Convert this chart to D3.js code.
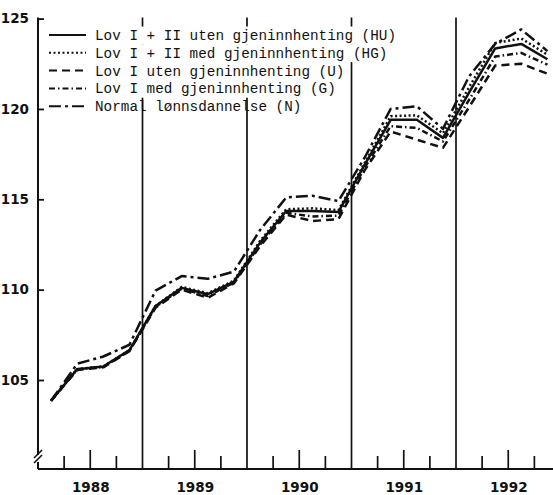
<!DOCTYPE html>
<html>
<head>
<meta charset="utf-8">
<script src="https://cdn.jsdelivr.net/npm/d3@7"></script>
<style>
  body { margin: 0; background: #fff; }
  svg { display: block; }
</style>
</head>
<body>
<script>
'use strict';

// quarters 1988Q1 .. 1992Q4
let years = [1988, 1989, 1990, 1991, 1992];
let quarters = [];
years.forEach((yr) => { [1, 2, 3, 4].forEach((q) => quarters.push(yr + (q - 0.5) / 4)); });

// price index
let serHU = [103.85, 105.6, 105.75, 106.65, 109.1, 110.1, 109.75, 110.45, 112.6, 114.35,
             114.35, 114.3, 116.9, 119.4, 119.4, 118.4, 120.9, 123.35, 123.6, 122.75];
let serHG = [103.85, 105.6, 105.75, 106.65, 109.1, 110.15, 109.8, 110.5, 112.7, 114.45,
             114.5, 114.4, 117.0, 119.6, 119.65, 118.65, 121.2, 123.65, 123.9, 123.0];
let serU  = [103.85, 105.55, 105.7, 106.6, 109.0, 110.0, 109.55, 110.35, 112.4, 114.15,
             113.8, 113.9, 116.6, 118.75, 118.3, 117.85, 120.1, 122.4, 122.5, 121.95];
let serG  = [103.85, 105.6, 105.72, 106.62, 109.05, 110.05, 109.65, 110.4, 112.5, 114.25,
             114.05, 114.1, 116.75, 119.05, 118.95, 118.2, 120.5, 122.9, 123.1, 122.45];
let serN  = [103.85, 105.9, 106.3, 106.95, 109.95, 110.75, 110.6, 111.0, 113.3, 115.1,
             115.2, 114.9, 117.3, 120.0, 120.15, 118.9, 121.8, 123.6, 124.4, 123.2];

let legendLabels = [
  "Lov I + II uten gjeninnhenting (HU)",
  "Lov I + II med gjeninnhenting (HG)",
  "Lov I uten gjeninnhenting (U)",
  "Lov I med gjeninnhenting (G)",
  "Normal lønnsdannelse (N)"
];
let yTicks = [105, 110, 115, 120, 125];

let series = [
  { values: serHU, dash: null },
  { values: serHG, dash: "2,2.5" },
  { values: serU,  dash: "8,5" },
  { values: serG,  dash: "6,3,1.5,3" },
  { values: serN,  dash: "12,4,3,4" }
];

let svg = d3.select('body').append('svg')
  .attr('width', 553)
  .attr('height', 495);

let x = d3.scaleLinear().domain([1988, 1993]).range([38, 560.5]);
let y = d3.scaleLinear().domain([105, 125]).range([380, 18.6]);
let axisY = 469;
let ink = "#111";

// year separator lines
svg.selectAll('.yearline')
  .data([1989, 1990, 1991, 1992])
  .enter().append('line')
  .attr('x1', (d) => x(d)).attr('x2', (d) => x(d))
  .attr('y1', y(125) - 1).attr('y2', axisY)
  .attr('stroke', ink).attr('stroke-width', 1.7);

// quarter ticks on x axis
let qTicks = [];
years.forEach((yr) => { [0.25, 0.5, 0.75].forEach((f) => qTicks.push(yr + f)); });
svg.selectAll('.qtick')
  .data(qTicks)
  .enter().append('line')
  .attr('x1', (d) => x(d)).attr('x2', (d) => x(d))
  .attr('y1', (d) => axisY - ((d % 1) === 0.5 ? 19 : 13)).attr('y2', axisY)
  .attr('stroke', ink).attr('stroke-width', 1.7);

// x axis line
svg.append('line')
  .attr('x1', x(1988)).attr('x2', 553)
  .attr('y1', axisY).attr('y2', axisY)
  .attr('stroke', ink).attr('stroke-width', 2);

// year labels
let xAxis = d3.axisBottom(x)
  .tickValues(years.map((d) => d + 0.5))
  .tickFormat((d) => Math.floor(d))
  .tickSize(0).tickPadding(13);
let gx = svg.append('g').attr('transform', 'translate(0,' + axisY + ')').call(xAxis);
gx.select('.domain').remove();
gx.selectAll('text')
  .style('font-family', 'DejaVu Sans')
  .style('font-size', '13.5px')
  .style('font-weight', 'bold')
  .attr('fill', ink);

// y axis with break
let yAxis = d3.axisLeft(y)
  .tickValues(yTicks)
  .tickSize(-6).tickPadding(9)
  .tickFormat(d3.format('d'));
let gy = svg.append('g').attr('transform', 'translate(' + x(1988) + ',0)').call(yAxis);
gy.select('.domain').remove();
gy.selectAll('line').attr('stroke', ink).attr('stroke-width', 1.8);
gy.selectAll('text')
  .style('font-family', 'DejaVu Sans')
  .style('font-size', '13.5px')
  .style('font-weight', 'bold')
  .attr('fill', ink);

let ax = x(1988);
svg.append('line')
  .attr('x1', ax).attr('x2', ax).attr('y1', y(125) - 1).attr('y2', 455)
  .attr('stroke', ink).attr('stroke-width', 2);
svg.append('line')
  .attr('x1', ax).attr('x2', ax).attr('y1', 462).attr('y2', axisY)
  .attr('stroke', ink).attr('stroke-width', 2);
[0, 5].forEach((o) => {
  svg.append('line')
    .attr('x1', ax - 4).attr('y1', 458 + o)
    .attr('x2', ax + 4).attr('y2', 450 + o)
    .attr('stroke', ink).attr('stroke-width', 1.6);
});

// data lines
let line = d3.line()
  .x((d, i) => x(quarters[i]))
  .y((d) => y(d));

svg.selectAll('.series')
  .data(series)
  .enter().append('path')
  .attr('d', (d) => line(d.values))
  .attr('fill', 'none')
  .attr('stroke', ink)
  .attr('stroke-width', 2.5)
  .attr('stroke-linejoin', 'round')
  .attr('stroke-dasharray', (d) => d.dash);

// legend (white patch behind first four rows hides the year lines there)
let legendTop = 35;
let legendStep = 17.8;
let charW = 8.6;
let bg = svg.append('g');
let lg = svg.append('g');
legendLabels.forEach((lab, i) => {
  let ly = legendTop + i * legendStep;
  if (i < 4) {
    bg.append('rect')
      .attr('x', 46).attr('y', ly - 8.5)
      .attr('width', 95 + lab.length * charW - 46 + 2).attr('height', 17.8)
      .attr('fill', '#ffffff');
  }
  lg.append('text')
    .attr('x', 95).attr('y', ly + 5)
    .attr('textLength', lab.length * charW)
    .style('font-family', 'Liberation Mono')
    .style('font-size', '14.3px')
    .attr('fill', ink)
    .text(lab);
  lg.append('line')
    .attr('x1', 49).attr('x2', 86)
    .attr('y1', ly).attr('y2', ly)
    .attr('stroke', ink).attr('stroke-width', 2)
    .attr('stroke-dasharray', series[i].dash);
});
</script>
</body>
</html>
